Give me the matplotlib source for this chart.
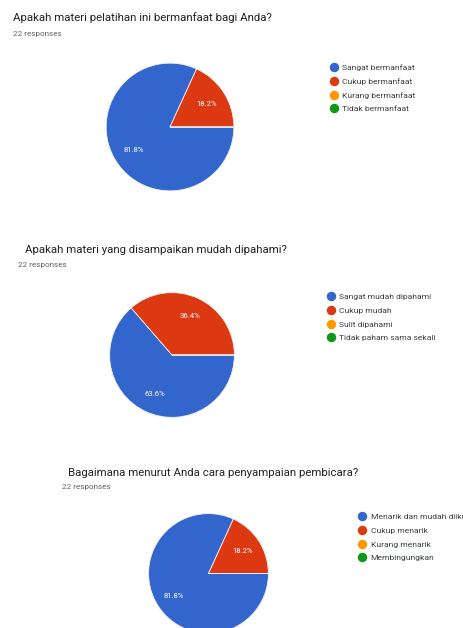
import matplotlib
matplotlib.use("Agg")
import matplotlib.pyplot as plt
from matplotlib.lines import Line2D

plt.rcParams['font.family'] = ['Roboto', 'DejaVu Sans']

W, H = 463, 628

# ---- data ----
titles = [
    "Apakah materi pelatihan ini bermanfaat bagi Anda?",
    "Apakah materi yang disampaikan mudah dipahami?",
    "Bagaimana menurut Anda cara penyampaian pembicara?",
]
responses = ["22 responses", "22 responses", "22 responses"]
labels1 = ["Sangat bermanfaat", "Cukup bermanfaat", "Kurang bermanfaat", "Tidak bermanfaat"]
values1 = [18, 4, 0, 0]
labels2 = ["Sangat mudah dipahami", "Cukup mudah", "Sulit dipahami", "Tidak paham sama sekali"]
values2 = [14, 8, 0, 0]
labels3 = ["Menarik dan mudah diikuti", "Cukup menarik", "Kurang menarik", "Membingungkan"]
values3 = [18, 4, 0, 0]
colors = ["#3366CC", "#DC3912", "#FF9900", "#109618"]

# ---- layout (pixels) ----
layout = [
    dict(title=(13, 18), resp=(13, 34), center=(170, 127), r=64.5, legend=(325.5, 60)),
    dict(title=(25, 250), resp=(18, 265), center=(172, 355), r=63, legend=(322.5, 289)),
    dict(title=(68, 473), resp=(62, 487), center=(208.5, 573.5), r=60.5, legend=(354, 509)),
]
datasets = [(labels1, values1), (labels2, values2), (labels3, values3)]

fig = plt.figure(figsize=(W / 100, H / 100), dpi=100)
fig.patch.set_facecolor("white")


def fx(x):
    return x / W


def fy(y):
    return 1 - y / H


def autopct(p):
    return f"{p:.1f}%" if p > 0.5 else ""


for i, (lay, (labs, vals)) in enumerate(zip(layout, datasets)):
    fig.text(fx(lay['title'][0]), fy(lay['title'][1]), titles[i], fontsize=8.2,
             color="#202124", va="center", ha="left")
    fig.text(fx(lay['resp'][0]), fy(lay['resp'][1]), responses[i], fontsize=5.9,
             color="#5f6368", va="center", ha="left")
    cx, cy = lay['center']
    r = lay['r']
    ax = fig.add_axes([fx(cx - r), fy(cy + r), 2 * r / W, 2 * r / H])
    wedges, texts, autotexts = ax.pie(
        vals, colors=colors, startangle=0, counterclock=False,
        autopct=autopct, pctdistance=0.68, radius=1,
        wedgeprops=dict(edgecolor="#f2f2f2", linewidth=0.6),
        textprops=dict(color="white", fontsize=5.6))
    ax.set_xlim(-1.01, 1.01)
    ax.set_ylim(-1.01, 1.01)
    ax.set_axis_off()

    handles = [Line2D([0], [0], marker='o', linestyle='none', markersize=5.8,
                      markerfacecolor=c, markeredgecolor=c) for c in colors]
    fig.legend(handles, labs, loc="upper left",
               bbox_to_anchor=(fx(lay['legend'][0]), fy(lay['legend'][1])),
               bbox_transform=fig.transFigure, frameon=False, fontsize=6.1,
               labelcolor="#3c4043", handletextpad=0.45, labelspacing=0.8,
               borderpad=0, handlelength=1.0)

fig.savefig("out.png", dpi=100, facecolor="white")
